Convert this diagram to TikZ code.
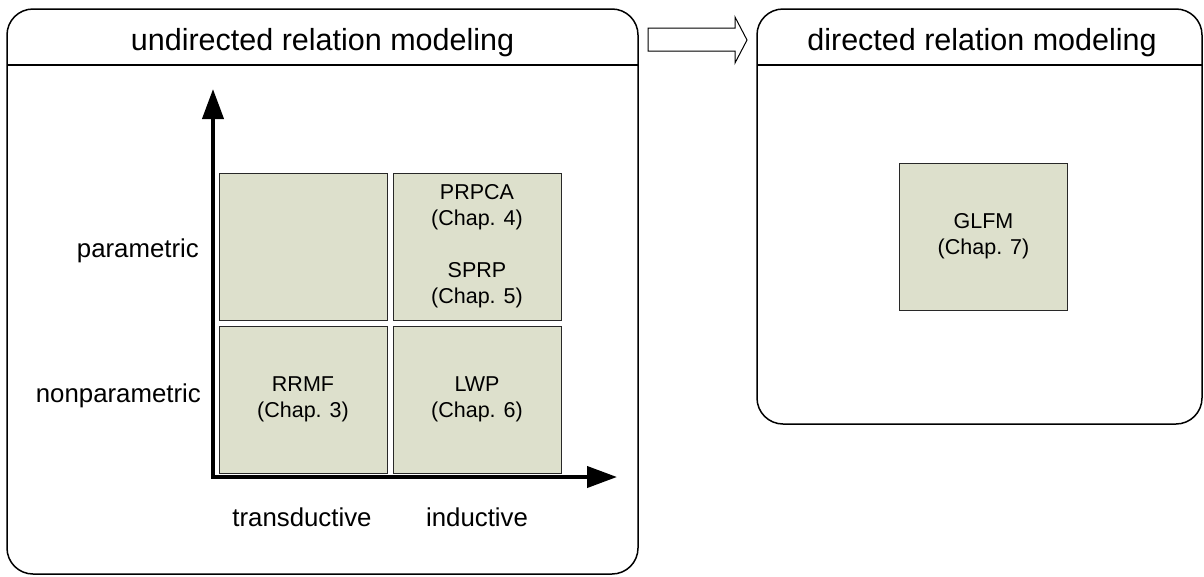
\documentclass[tikz,border=0pt]{standalone}
\usepackage{fontspec}
\setmainfont{Liberation Sans}
\usetikzlibrary{arrows.meta}
\definecolor{boxfill}{RGB}{221,224,204}
\definecolor{boxline}{RGB}{40,40,40}
\begin{document}
\begin{tikzpicture}[x=1pt,y=-1pt,
  panel/.style={draw=black,line width=1.5pt,rounded corners=26pt},
  hline/.style={draw=black,line width=1.8pt},
  cell/.style={draw=boxline,line width=1pt,fill=boxfill,minimum width=168pt,minimum height=147pt,inner sep=0pt,align=center,font=\fontsize{21.5}{26}\selectfont},
  ttl/.style={anchor=base,font=\fontsize{30.5}{36}\selectfont,inner sep=0pt},
  lbl/.style={font=\fontsize{25.8}{30}\selectfont,inner sep=0pt},
  axis/.style={line width=4pt,-{Triangle[length=30pt,width=21pt]}},
  blockarrow/.style={draw=black,line width=1pt,fill=white}]
\useasboundingbox (0,0) rectangle (1204,576);
% panels
\path[panel] (7,9) rectangle (638,574);
\path[hline] (7,65) -- (638,65);
\path[panel] (757,9) rectangle (1202,424);
\path[hline] (757,65) -- (1202,65);
\node[ttl] (t1) at (322.5,50) {undirected relation modeling};
\node[ttl] (t2) at (982,50) {directed relation modeling};
% block arrow
\path[blockarrow] (648,28) -- (735,28) -- (735,17) -- (747,40) -- (735,63) -- (735,51) -- (648,51) -- cycle;
% cells
\node[cell] (c11) at (303,246.5) {};
\node[cell] (c12) at (477,246.5) {PRPCA\\(Chap. 4)\\[26pt]SPRP\\(Chap. 5)};
\node[cell] (c21) at (303,399.5) {RRMF\\(Chap. 3)};
\node[cell] (c22) at (477,399.5) {LWP\\(Chap. 6)};
\node[cell] (g) at (983.5,236.5) {GLFM\\(Chap. 7)};
% axes
\coordinate (o) at (213,477);
\coordinate (ytip) at (213,89);
\coordinate (xtip) at (617,477);
\draw[axis] (o) -- (ytip);
\draw[axis] ([xshift=-2pt]o) -- (xtip);
% labels
\node[lbl,anchor=base east] (lp) at (199,257) {parametric};
\node[lbl,anchor=base east] (ln) at (201,402) {nonparametric};
\node[lbl,anchor=base] (lt) at (302,526) {transductive};
\node[lbl,anchor=base] (li) at (477,526) {inductive};
\end{tikzpicture}
\end{document}
